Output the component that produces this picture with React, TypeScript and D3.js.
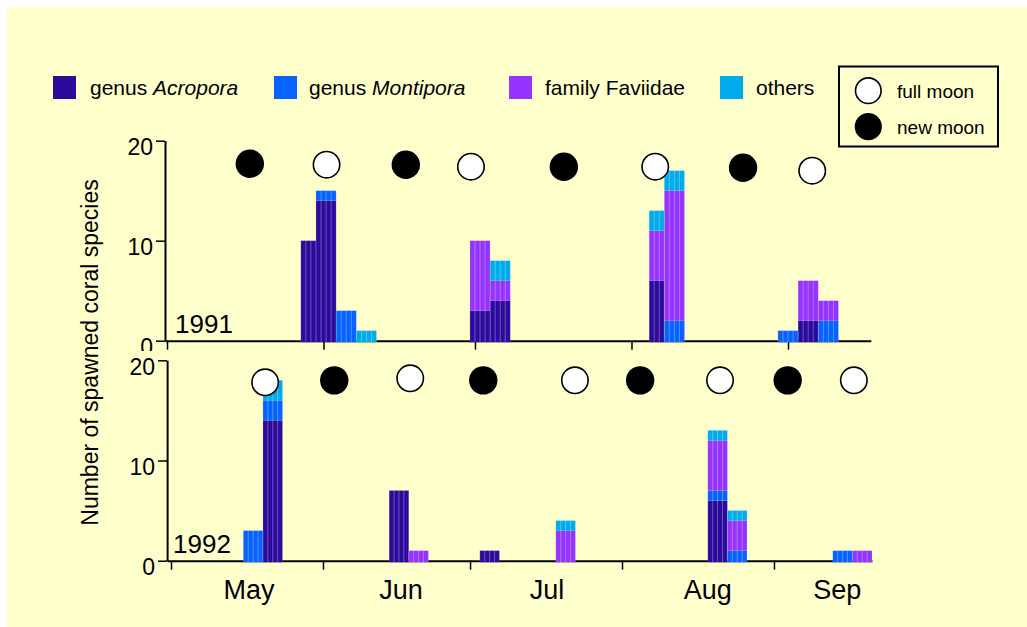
import * as d3 from 'd3';
import React, { useEffect, useRef } from 'react';

const FONT = 'Arial, "Liberation Sans", Helvetica, sans-serif';

// stack order, bottom to top
const seriesKeys = ['acropora', 'montipora', 'faviidae', 'others'];
const seriesColors = ['#2c0a9c', '#0763ff', '#9534ff', '#00abeb'];

// 1991: bar start (days after May 1), bar length in days, species counts
const barStart1991 = [26.5, 29.5, 33.5, 37.5, 60, 64, 95.5, 98.5, 121, 125, 129];
const barDays1991 = [3, 4, 4, 4, 4, 4, 3, 4, 4, 4, 4];
const acropora1991 = [10, 14, 0, 0, 3, 4, 6, 0, 0, 2, 0];
const montipora1991 = [0, 1, 3, 0, 0, 0, 0, 2, 1, 0, 2];
const faviidae1991 = [0, 0, 0, 0, 7, 2, 5, 13, 0, 4, 2];
const others1991 = [0, 0, 0, 1, 0, 2, 2, 2, 0, 0, 0];

// 1992
const barStart1992 = [14.75, 18.75, 44.5, 48.5, 63, 78.5, 109.5, 113.5, 135, 139];
const barDays1992 = [4, 4, 4, 4, 4, 4, 4, 4, 4, 4];
const acropora1992 = [0, 14, 7, 0, 1, 0, 6, 0, 0, 0];
const montipora1992 = [3, 2, 0, 0, 0, 0, 1, 1, 1, 0];
const faviidae1992 = [0, 0, 0, 1, 0, 3, 5, 3, 0, 1];
const others1992 = [0, 2, 0, 0, 0, 1, 1, 1, 0, 0];

// moon phases (day, phase, height on the count axis)
const moonDays1991 = [16.4, 31.6, 47.3, 60.2, 78.6, 96.7, 114.1, 127.8];
const moonPhase1991 = ['new', 'full', 'new', 'full', 'new', 'full', 'new', 'full'];
const moonLevel1991 = [17.7, 17.6, 17.6, 17.4, 17.4, 17.4, 17.3, 17.0];
const moonDays1992 = [19.2, 33.3, 48.8, 63.7, 82.4, 95.7, 112, 125.8, 139.3];
const moonPhase1992 = ['full', 'new', 'full', 'new', 'full', 'new', 'full', 'new', 'full'];
const moonLevel1992 = [17.8, 18.0, 18.2, 18.0, 18.0, 18.0, 18.0, 18.0, 18.0];

const monthStartDays = [0, 31, 61, 92, 123];
const monthLabels = ['May', 'Jun', 'Jul', 'Aug', 'Sep'];
const monthLabelDays = [15.9, 46.9, 76.7, 109.5, 135.9];
const yTicks = [0, 10, 20];

type Row = { start: number; days: number; [k: string]: number };

interface PanelConfig {
    year: string;
    starts: number[];
    days: number[];
    counts: number[][];
    moonDays: number[];
    moonPhase: string[];
    moonLevel: number[];
    xDomain: [number, number];
    xRange: [number, number];
    yRange: [number, number];
    clipY?: number;
    yearX: number;
    monthAxis?: boolean;
}

function drawPanel(
    svg: d3.Selection<SVGSVGElement, unknown, null, undefined>,
    cfg: PanelConfig
) {
    const g = svg.append('g');
    if (cfg.clipY) {
        // the lower panel sits over the bottom edge of this one
        const id = 'clip' + cfg.year;
        svg.append('defs')
            .append('clipPath')
            .attr('id', id)
            .append('rect')
            .attr('x', 0)
            .attr('y', 0)
            .attr('width', 1027)
            .attr('height', cfg.clipY);
        g.attr('clip-path', `url(#${id})`);
    }

    const x = d3.scaleLinear().domain(cfg.xDomain).range(cfg.xRange);
    const y = d3.scaleLinear().domain([0, 20]).range(cfg.yRange);

    // x axis with month boundary ticks
    const xAxis = g
        .append('g')
        .attr('transform', `translate(0,${y(0)})`)
        .call(
            d3
                .axisBottom(x)
                .tickValues(monthStartDays)
                .tickSize(9)
                .tickSizeOuter(0)
                .tickFormat(() => '')
        );
    xAxis.select('.domain').attr('stroke', '#000').attr('stroke-width', 2);
    xAxis.selectAll('.tick line').attr('stroke', '#000').attr('stroke-width', 1.5);

    // y axis
    const yAxis = g
        .append('g')
        .attr('transform', `translate(${x(cfg.xDomain[0])},0)`)
        .call(d3.axisLeft(y).tickValues(yTicks).tickSize(9).tickPadding(3).tickSizeOuter(0))
        .attr('font-family', FONT)
        .attr('font-size', 23);
    yAxis.select('.domain').attr('stroke', '#000').attr('stroke-width', 2);
    yAxis.selectAll('.tick line').attr('stroke', '#000').attr('stroke-width', 1.5);
    yAxis.selectAll('.tick text').attr('fill', '#000').attr('dy', '0.62em');

    // year label
    g.append('text')
        .attr('x', cfg.yearX)
        .attr('y', y(0) - 8)
        .attr('font-family', FONT)
        .attr('font-size', 26)
        .attr('fill', '#000')
        .text(cfg.year);

    // stacked bars
    const rows: Row[] = cfg.starts.map((s, i) => {
        const r: Row = { start: s, days: cfg.days[i] };
        seriesKeys.forEach((k, j) => (r[k] = cfg.counts[j][i]));
        return r;
    });
    const stacked = d3.stack<Row>().keys(seriesKeys)(rows);
    const color = d3.scaleOrdinal<string, string>(seriesKeys, seriesColors);

    g.selectAll('.layer')
        .data(stacked)
        .join('g')
        .attr('fill', (d) => color(d.key))
        .selectAll('rect')
        .data((d) => d.filter((p) => p[1] > p[0]))
        .join('rect')
        .attr('x', (d) => x(d.data.start))
        .attr('width', (d) => x(d.data.start + d.data.days) - x(d.data.start))
        .attr('y', (d) => y(d[1]))
        .attr('height', (d) => y(d[0]) - y(d[1]) + (d[0] === 0 ? 1.5 : 0));

    // daily stripes inside each bar
    rows.forEach((r) => {
        const total = d3.sum(seriesKeys, (k) => r[k]);
        for (let i = 0; i <= r.days; i++) {
            g.append('line')
                .attr('x1', x(r.start + i))
                .attr('x2', x(r.start + i))
                .attr('y1', y(0) + 1.5)
                .attr('y2', y(total))
                .attr('stroke', '#ffffff')
                .attr('stroke-opacity', i === 0 || i === r.days ? 0.15 : 0.3)
                .attr('stroke-width', 1);
        }
    });

    // moons
    g.selectAll('.moon')
        .data(cfg.moonDays.map((d, i) => ({ day: d, phase: cfg.moonPhase[i], level: cfg.moonLevel[i] })))
        .join('circle')
        .attr('cx', (d) => x(d.day))
        .attr('cy', (d) => y(d.level))
        .attr('r', (d) => (d.phase === 'full' ? 13.2 : 14.2))
        .attr('fill', (d) => (d.phase === 'full' ? '#ffffff' : '#000000'))
        .attr('stroke', '#000')
        .attr('stroke-width', (d) => (d.phase === 'full' ? 1.6 : 0));

    if (cfg.monthAxis) {
        g.selectAll('.month')
            .data(monthLabels)
            .join('text')
            .attr('x', (_, i) => x(monthLabelDays[i]))
            .attr('y', y(0) + 38.5)
            .attr('text-anchor', 'middle')
            .attr('font-family', FONT)
            .attr('font-size', 27)
            .attr('fill', '#000')
            .text((d) => d);
    }
}

export default function App() {
    const ref = useRef<SVGSVGElement | null>(null);

    useEffect(() => {
        const svg = d3.select(ref.current as SVGSVGElement);
        svg.selectAll('*').remove();

        svg.append('rect')
            .attr('width', 1027)
            .attr('height', 627)
            .attr('fill', '#ffffff');
        svg.append('rect')
            .attr('x', 7)
            .attr('y', 7)
            .attr('width', 1020)
            .attr('height', 620)
            .attr('fill', '#ffffcc');

        drawPanel(svg, {
            year: '1991',
            starts: barStart1991,
            days: barDays1991,
            counts: [acropora1991, montipora1991, faviidae1991, others1991],
            moonDays: moonDays1991,
            moonPhase: moonPhase1991,
            moonLevel: moonLevel1991,
            xDomain: [-0.4, 139.4],
            xRange: [165, 870.8],
            yRange: [340.7, 140.7],
            clipY: 351,
            yearX: 175,
        });

        drawPanel(svg, {
            year: '1992',
            starts: barStart1992,
            days: barDays1992,
            counts: [acropora1992, montipora1992, faviidae1992, others1992],
            moonDays: moonDays1992,
            moonPhase: moonPhase1992,
            moonLevel: moonLevel1992,
            xDomain: [-0.8, 143],
            xRange: [167.1, 872],
            yRange: [560.7, 360.3],
            yearX: 173,
            monthAxis: true,
        });

        // y axis title
        svg.append('text')
            .attr('transform', 'translate(98, 352.5) rotate(-90)')
            .attr('text-anchor', 'middle')
            .attr('font-family', FONT)
            .attr('font-size', 23)
            .attr('fill', '#000')
            .text('Number of spawned coral species');

        // series legend
        const legendItems = [
            { pre: 'genus ', it: 'Acropora' },
            { pre: 'genus ', it: 'Montipora' },
            { pre: 'family Faviidae', it: '' },
            { pre: 'others', it: '' },
        ];
        const legendX = [53, 274, 509, 720];
        const textX = [90, 309, 545, 756];
        legendItems.forEach((item, i) => {
            svg.append('rect')
                .attr('x', legendX[i])
                .attr('y', 76)
                .attr('width', 23)
                .attr('height', 23)
                .attr('fill', seriesColors[i]);
            const t = svg
                .append('text')
                .attr('x', textX[i])
                .attr('y', 95)
                .attr('font-family', FONT)
                .attr('font-size', 21)
                .attr('fill', '#000');
            t.append('tspan').text(item.pre);
            if (item.it) t.append('tspan').attr('font-style', 'italic').text(item.it);
        });

        // moon legend
        const box = svg.append('g');
        box.append('rect')
            .attr('x', 839)
            .attr('y', 66.5)
            .attr('width', 159)
            .attr('height', 80)
            .attr('fill', 'none')
            .attr('stroke', '#000')
            .attr('stroke-width', 2);
        [
            { label: 'full moon', fill: '#ffffff', cy: 90.7, ty: 98 },
            { label: 'new moon', fill: '#000000', cy: 126.7, ty: 134 },
        ].forEach((m) => {
            box.append('circle')
                .attr('cx', 868.3)
                .attr('cy', m.cy)
                .attr('r', 12.8)
                .attr('fill', m.fill)
                .attr('stroke', '#000')
                .attr('stroke-width', 1.6);
            box.append('text')
                .attr('x', 897)
                .attr('y', m.ty)
                .attr('font-family', FONT)
                .attr('font-size', 19)
                .attr('fill', '#000')
                .text(m.label);
        });
    }, []);

    return (
        <svg
            ref={ref}
            width={1027}
            height={627}
            style={{ position: 'absolute', left: 0, top: 0 }}
        />
    );
}
